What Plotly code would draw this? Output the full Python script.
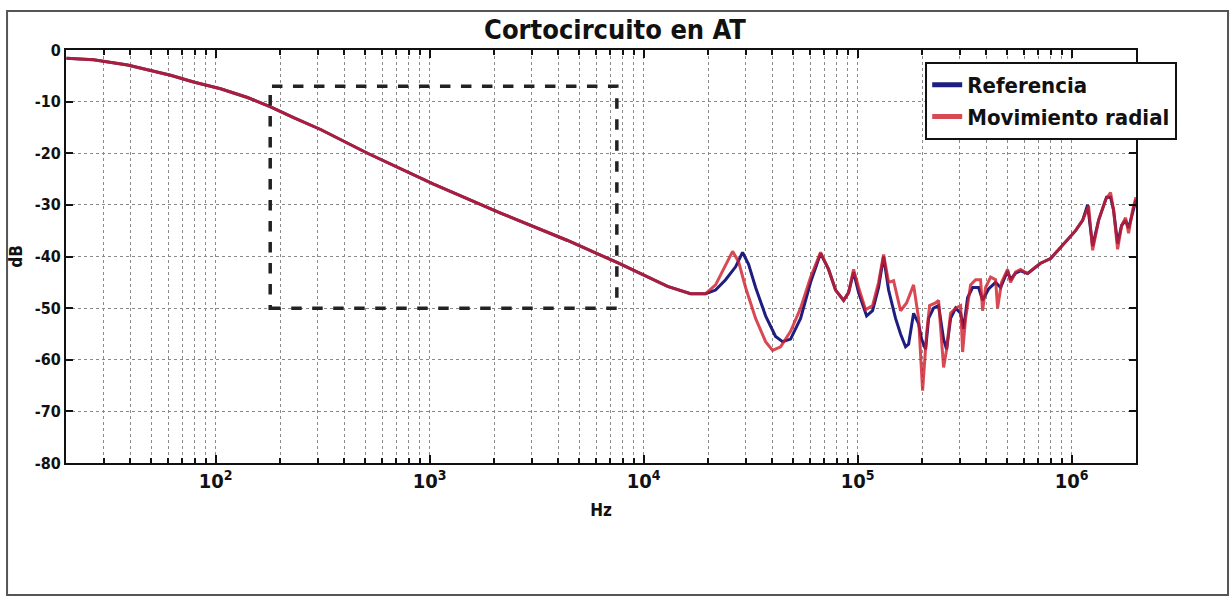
import plotly.graph_objects as go
import math

# ---- data (Hz, dB) ----
freq_low = [20.1, 26.9, 38.8, 49.7, 61.6, 78.9, 105.5, 141, 180.7, 231.5, 309.6, 513,
            1044, 2147, 4415, 7557, 10784, 12948, 16580, 19488]
db_low = [-1.6, -1.9, -2.9, -3.9, -4.9, -6.2, -7.5, -9.2, -11.0, -13.1, -15.4, -20.0,
          -26.0, -31.6, -36.9, -41.2, -44.3, -45.8, -47.2, -47.2]

freq_ref_hf = [21700, 24170, 26910, 29010, 30950, 33380, 37170, 41380, 44630, 48630, 54150,
               60310, 67160, 73200, 78930, 86050, 90780, 95790, 101080, 110200, 117500,
               125370, 132300, 139600, 150500, 158800, 167600, 173100, 182700, 192800,
               199100, 207900, 214700, 226500, 239000, 252300, 260600, 272000, 287100,
               303000, 312900, 326600, 344700, 367700, 383800, 409400, 441500, 465900,
               502200, 518800, 547400, 577600, 623000, 678900, 716400, 797900, 917600,
               1044000, 1126000, 1188000, 1254000, 1337000, 1457000, 1521000, 1571000,
               1641000, 1713000, 1788000, 1847000, 1928000, 2000000]
db_ref_hf = [-46.5, -44.5, -42.0, -39.2, -41.5, -46.0, -51.5, -55.5, -56.5, -56.0, -52.0,
             -45.0, -39.4, -42.5, -46.5, -48.5, -47.0, -43.0, -47.0, -51.5, -50.5,
             -46.0, -40.0, -46.5, -52.0, -55.0, -57.5, -57.0, -51.0, -53.0,
             -56.0, -58.0, -52.0, -50.0, -49.5, -56.0, -58.0, -52.0, -50.0,
             -51.0, -54.0, -48.0, -46.0, -46.0, -48.5, -46.3, -45.0, -46.0,
             -42.8, -44.5, -43.2, -42.8, -43.3, -42.0, -41.3, -40.4, -37.5,
             -35.0, -33.0, -30.0, -38.0, -33.0, -28.5, -28.5, -31.0,
             -37.5, -34.0, -33.0, -34.5, -31.5, -29.0]

freq_mov_hf = [21700, 24170, 26060, 27790, 29970, 33380, 37170, 40070, 43680, 48630, 54150,
               60310, 67160, 73200, 78930, 86050, 90780, 95790, 101080, 109000, 117500,
               125370, 132300, 139600, 147300, 158800, 169400, 182700, 192800, 201300,
               210100, 217000, 231400, 239000, 252300, 260600, 272000, 287100, 303000,
               309600, 319700, 337400, 356000, 375700, 383800, 396500, 418300, 441500,
               451100, 471000, 502200, 518800, 547400, 577600, 623000, 678900, 716400,
               797900, 917600, 1044000, 1126000, 1201000, 1254000, 1337000, 1442000,
               1521000, 1571000, 1641000, 1713000, 1788000, 1847000, 1928000, 2000000]
db_mov_hf = [-45.5, -41.5, -39.0, -41.0, -46.0, -52.0, -56.5, -58.2, -57.5, -54.5, -50.0,
             -44.0, -39.2, -42.5, -46.5, -48.5, -47.0, -42.5, -46.0, -50.3, -49.5,
             -45.0, -39.6, -45.0, -44.7, -50.5, -49.0, -45.5, -52.0, -66.0,
             -55.0, -49.5, -49.0, -48.5, -61.5, -58.0, -51.0, -50.0, -49.5,
             -58.5, -52.0, -45.5, -44.5, -44.5, -50.5, -46.0, -44.0, -44.5,
             -50.0, -45.0, -42.5, -45.0, -43.0, -42.5, -43.3, -42.0, -41.3,
             -40.4, -37.5, -35.0, -33.0, -30.2, -38.8, -33.0, -29.0,
             -27.6, -31.0, -38.6, -34.0, -32.5, -35.5, -31.0, -28.5]

zoom_box_freq = [180, 7500]
zoom_box_db = [-50, -7]

series_names = ["Referencia", "Movimiento radial"]
title_text = "Cortocircuito en AT"
y_tickvals = [0, -10, -20, -30, -40, -50, -60, -70, -80]
y_ticktext = ["0", "-10", "-20", "-30", "-40", "-50", "-60", "-70", "-80"]

FONT = "Liberation Sans Narrow, Arial Narrow, DejaVu Sans Condensed, Liberation Sans, sans-serif"

fig = go.Figure()
fig.add_trace(go.Scatter(x=freq_low + freq_ref_hf, y=db_low + db_ref_hf, mode="lines",
                         name=series_names[0], line=dict(color="#1e1e80", width=3)))
fig.add_trace(go.Scatter(x=freq_low + freq_mov_hf, y=db_low + db_mov_hf, mode="lines",
                         name=series_names[1], opacity=0.8,
                         line=dict(color="#d01c2a", width=3)))

# dashed zoom rectangle (data values on the log axis)
fig.add_shape(type="rect", xref="x", yref="y",
              x0=zoom_box_freq[0], x1=zoom_box_freq[1],
              y0=zoom_box_db[0], y1=zoom_box_db[1],
              line=dict(color="#222222", width=3.5, dash="dash"), layer="above")

# outer frame of the figure
fig.add_shape(type="rect", xref="paper", yref="paper",
              x0=-0.0551, x1=1.086, y0=-0.3196, y1=1.0944,
              line=dict(color="#555555", width=2))

grid = dict(showgrid=True, gridcolor="#8a8a8a", gridwidth=1, griddash="dot")

fig.update_layout(
    width=1230, height=598,
    font=dict(family=FONT, size=16, color="#111111"),
    margin=dict(l=66, r=94, t=50, b=135),
    paper_bgcolor="white", plot_bgcolor="white",
    title=dict(text=title_text, x=0.5, xanchor="center", y=0.95, yanchor="middle",
               font=dict(family=FONT, size=27, color="#111111", weight="bold")),
    showlegend=True,
    legend=dict(x=0.803, xanchor="left", y=0.971, yanchor="top",
                bgcolor="white", bordercolor="#111111", borderwidth=2,
                font=dict(family=FONT, size=22, color="#111111", weight="bold"),
                tracegroupgap=0, itemsizing="constant"),
    xaxis=dict(type="log", range=[math.log10(20), math.log10(2e6)], dtick=1,
               exponentformat="power", showexponent="all",
               ticks="inside", ticklen=8, tickwidth=2, tickcolor="#111111",
               showline=True, linecolor="#111111", linewidth=2, mirror="ticks",
               tickfont=dict(family=FONT, size=16, color="#111111", weight="bold"),
               title=dict(text="Hz", standoff=12,
                          font=dict(family=FONT, size=17, color="#111111", weight="bold")),
               minor=dict(dtick="D1", ticks="inside", ticklen=5, tickcolor="#111111",
                          **grid),
               zeroline=False, **grid),
    yaxis=dict(range=[-80, 0], tickmode="array", tickvals=y_tickvals, ticktext=y_ticktext,
               ticks="inside", ticklen=7, tickwidth=2, tickcolor="#111111",
               showline=True, linecolor="#111111", linewidth=2, mirror="ticks",
               tickfont=dict(family=FONT, size=16, color="#111111", weight="bold"),
               title=dict(text="dB", standoff=8,
                          font=dict(family=FONT, size=17, color="#111111", weight="bold")),
               zeroline=False, **grid),
)

fig.write_html("out.html")
